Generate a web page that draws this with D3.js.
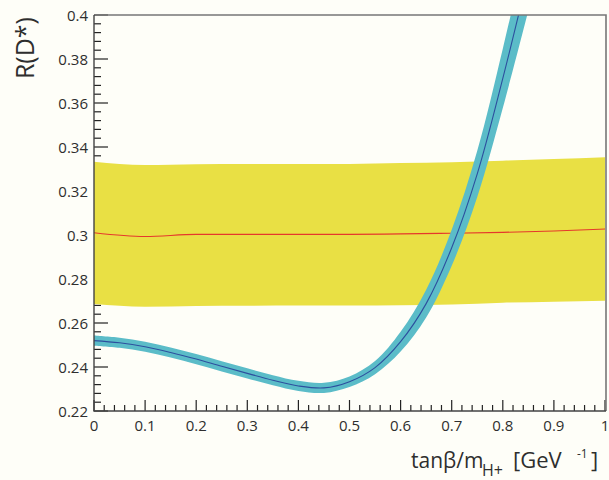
<!DOCTYPE html>
<html>
<head>
<meta charset="utf-8">
<script src="https://cdn.jsdelivr.net/npm/d3@7"></script>
<style>
  html, body { margin: 0; padding: 0; background: #fefef8; }
  svg { display: block; }
  text { font-family: "Open Sans", "Noto Sans", sans-serif; fill: #2e2e2e; }
</style>
</head>
<body>
<svg id="chart" width="609" height="480"></svg>
<script>
// Measured R(D*) band: central value and 1-sigma edges vs tanβ/m_H+
const measX       = [0, 0.1, 0.2, 0.3, 0.4, 0.5, 0.6, 0.7, 0.8, 0.9, 1.0];
const measCentral = [0.3010, 0.2993, 0.3003, 0.3003, 0.3003, 0.3003, 0.3005, 0.3008, 0.3012, 0.3018, 0.3027];
const measUpper   = [0.3333, 0.3318, 0.3322, 0.3323, 0.3323, 0.3323, 0.3327, 0.3331, 0.3338, 0.3345, 0.3353];
const measLower   = [0.2686, 0.2674, 0.2677, 0.2678, 0.2679, 0.2679, 0.2681, 0.2684, 0.2692, 0.2697, 0.2701];

// 2HDM type-II prediction with its uncertainty (half-width)
const theoryX   = [0, 0.05, 0.1, 0.15, 0.2, 0.25, 0.3, 0.35, 0.4, 0.45, 0.5, 0.55, 0.6, 0.65, 0.7, 0.75, 0.8, 0.85];
const theoryR   = [0.2520, 0.2510, 0.2492, 0.2466, 0.2436, 0.2403, 0.2371, 0.2340, 0.2314, 0.2305, 0.2333, 0.2397, 0.2515, 0.2688, 0.2942, 0.3278, 0.3712, 0.4185];
const theoryErr = [0.0023, 0.0023, 0.0023, 0.0023, 0.0023, 0.0023, 0.0023, 0.0023, 0.0023, 0.0023, 0.0024, 0.0030, 0.0045, 0.0063, 0.0082, 0.0105, 0.0135, 0.0165];

const xTickLabels = ["0", "0.1", "0.2", "0.3", "0.4", "0.5", "0.6", "0.7", "0.8", "0.9", "1"];
const yTickLabels = ["0.22", "0.24", "0.26", "0.28", "0.3", "0.32", "0.34", "0.36", "0.38", "0.4"];

const svg = d3.select("#chart");
const x = d3.scaleLinear().domain([0, 1]).range([94, 605]);
const y = d3.scaleLinear().domain([0.22, 0.4]).range([411, 15]);

svg.append("defs").append("clipPath").attr("id", "plotClip")
  .append("rect").attr("x", x(0)).attr("y", y(0.4))
  .attr("width", x(1) - x(0)).attr("height", y(0.22) - y(0.4));

// Tick marks (drawn first, the bands cover them)
const ticks = svg.append("g").attr("stroke", "#222").attr("stroke-width", 1.2);
d3.range(0, 51).forEach(i => {
  const v = i * 0.02;
  const major = i % 5 === 0;
  ticks.append("line")
    .attr("x1", x(v)).attr("x2", x(v))
    .attr("y1", y(0.22)).attr("y2", y(0.22) - (major ? 11 : 6));
});
d3.range(0, 46).forEach(i => {
  const v = 0.22 + i * 0.004;
  const major = i % 5 === 0;
  ticks.append("line")
    .attr("x1", x(0)).attr("x2", x(0) + (major ? 14 : 7))
    .attr("y1", y(v)).attr("y2", y(v));
});

const plot = svg.append("g").attr("clip-path", "url(#plotClip)");

// Measurement band
const meas = measX.map((d, i) => ({ x: d, c: measCentral[i], lo: measLower[i], hi: measUpper[i] }));
plot.append("path").datum(meas)
  .attr("fill", "#e9e044")
  .attr("d", d3.area().x(d => x(d.x)).y0(d => y(d.lo)).y1(d => y(d.hi)).curve(d3.curveMonotoneX));
plot.append("path").datum(meas)
  .attr("fill", "none").attr("stroke", "#e5382c").attr("stroke-width", 1.1)
  .attr("d", d3.line().x(d => x(d.x)).y(d => y(d.c)).curve(d3.curveMonotoneX));

// Theory band and central curve
const theory = theoryX.map((d, i) => ({ x: d, r: theoryR[i], e: theoryErr[i] }));
plot.append("path").datum(theory)
  .attr("fill", "#5bbcc8")
  .attr("d", d3.area().x(d => x(d.x)).y0(d => y(d.r - d.e)).y1(d => y(d.r + d.e)).curve(d3.curveCatmullRom.alpha(0.5)));
plot.append("path").datum(theory)
  .attr("fill", "none").attr("stroke", "#2d4f9e").attr("stroke-width", 1.1)
  .attr("d", d3.line().x(d => x(d.x)).y(d => y(d.r)).curve(d3.curveCatmullRom.alpha(0.5)));

// Frame
svg.append("path")
  .attr("d", `M${x(0)},${y(0.4)} H${x(1) + 1} V${y(0.22)}`)
  .attr("fill", "none").attr("stroke", "#777").attr("stroke-width", 1.6);
svg.append("path")
  .attr("d", `M${x(0)},${y(0.4)} V${y(0.22)} H${x(1) + 1}`)
  .attr("fill", "none").attr("stroke", "#444").attr("stroke-width", 1.4);

// Tick labels
svg.append("g").selectAll("text").data(xTickLabels).join("text")
  .attr("x", (d, i) => x(i / 10)).attr("y", 431)
  .attr("text-anchor", "middle").attr("font-size", 15)
  .text(d => d);
svg.append("g").selectAll("text").data(yTickLabels).join("text")
  .attr("x", 88).attr("y", (d, i) => y(0.22 + i * 0.02) + 5.5)
  .attr("text-anchor", "end").attr("font-size", 15)
  .text(d => d);

// Axis titles
const xt = svg.append("text").attr("y", 468).attr("font-size", 21);
xt.append("tspan").attr("x", 411).text("tanβ/m");
xt.append("tspan").attr("x", 482).attr("y", 476).attr("font-size", 16).text("H+");
xt.append("tspan").attr("x", 513).attr("y", 468).attr("font-size", 22).text("[GeV");
xt.append("tspan").attr("x", 577).attr("y", 458).attr("font-size", 12).text("-1");
xt.append("tspan").attr("x", 591).attr("y", 468).attr("font-size", 22).text("]");

svg.append("text")
  .attr("transform", "translate(34,17) rotate(-90)")
  .attr("text-anchor", "end").attr("font-size", 25)
  .text("R(D*)");
</script>
</body>
</html>
